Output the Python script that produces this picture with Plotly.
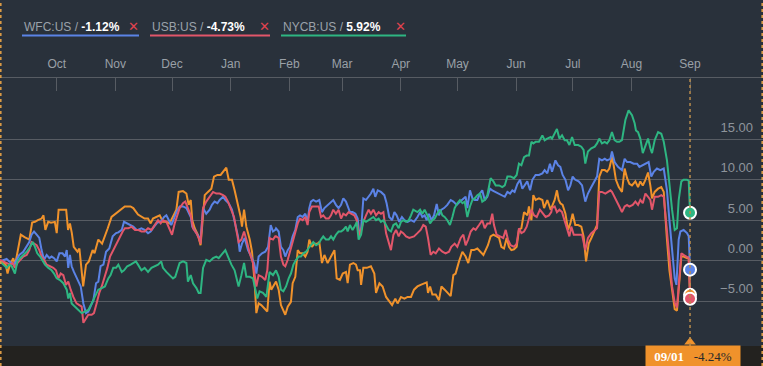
import pandas as pd
import plotly.graph_objects as go

START = pd.Timestamp("2014-09-01")

# ---------------- data (day offset from START, percent change) ----------------
orange_days = [0,1,3,4,5,7,8,10,11,13,15.5,17,18.5,20,22,23,24,25.5,27,29,30,31,33.5,35,36,37,38,39,41,42,44,45.5,47,49,50,52,54,55.5,57,59,61,62.5,64,66,69,70.5,
    73,74.8,76.5,78.3,79.7,80.9,82.7,84.5,86.2,88,89.7,91.5,93.3,94.5,96.8,98.6,99.8,100.9,101.7,103,104.7,106.1,107.4,108.3,110,111.8,113.2,115,116.7,118,119.7,121,122.7,124.1,125.9,127.3,128,129.1,130.3,132.1,133.3,134.7,135.6,136.8,138.2,140,141.4,142.6,143.5,
    146,147.4,148.6,149.9,150.9,152.2,153.9,154.8,156.2,157.5,158.7,160.1,161.5,162.7,163.6,165,166.3,168,168.9,170.3,171.6,173.3,175.1,176.9,178.1,179.8,181.3,183,183.9,185.1,186.9,188.3,189.2,190.4,191,192.2,194,196.2,198,198.9,200.7,202.4,204.2,205.9,207.4,209.1,210.3,212.1,213.9,215.6,217.4,
    219,220.8,222.5,224.3,225.7,226.4,227.5,228.7,230.5,232.2,233.5,235.2,236.6,238.4,239.8,241,242.8,244.6,246.3,247.7,249.3,250.7,252.5,253.9,255.7,256.9,258.1,259.5,261,262.7,264,265.2,266.6,268,269.2,270.5,271.9,273.3,274.5,275.8,277.2,279,279.8,281.1,282.1,283.3,285.1,286.9,287.8,289.5,291.3,
    292,293.4,294.6,295.5,296.4,297.6,299.1,300.5,301.7,302.9,304.3,305.8,307.5,308.7,310,311.4,312.8,314.6,315.8,317,318.4,319.9,321.1,322.3,323.7,324.6,325.8,327.3,329,330.4,331.7,332.9,334.3,336.1,337.5,338.7,340,341.4,342.8,344,344.9,346.3,348.1,349.8,351.1,352.8,354.1,355.5,356.9,358.1,359,360.4,361.6,363.4,364.3,365]
orange_vals = [0.0,-0.1,-0.5,-1.6,-0.7,0.3,-0.5,1.7,3.2,2.9,2.6,4.7,4.8,5.0,5.2,5.6,3.8,4.8,4.7,4.8,3.4,6.3,6.3,6.3,3.8,4.6,3.4,1.7,1.1,1.5,-3.2,-0.5,-0.1,1.3,0.9,2.6,2.1,3.0,4.0,5.4,5.8,6.0,6.3,6.7,6.7,6.5,
    5.7,5.4,5.2,5.2,4.6,5.2,5.4,5.6,4.8,4.8,4.6,5.4,6.3,8.5,8.6,8.3,6.9,7.5,5.0,4.0,3.2,1.9,6.3,8.1,8.5,8.9,10.4,10.6,10.6,11.0,11.5,10.0,10.0,8.7,6.9,5.4,4.2,6.3,4.2,2.6,1.1,-2.8,-6.5,-5.3,-5.5,-5.9,-6.3,-2.6,-3.6,
    -2.6,-3.6,-5.5,-6.1,-6.7,-5.7,-5.1,-2.8,-2.0,1.3,0.9,0.9,0.5,1.1,2.6,1.7,2.1,2.1,2.3,-0.3,0.7,-0.3,0.5,1.3,-2.2,-2.4,-1.6,-1.4,-2.8,-0.5,-0.3,-0.5,-1.2,-1.2,-3.0,-0.9,-0.9,-0.7,-1.6,-4.0,-2.8,-3.2,-4.5,-5.1,-5.5,-4.7,-5.3,-4.5,-4.7,-4.5,-4.5,
    -3.6,-3.2,-3.0,-2.8,-2.7,-4.0,-3.2,-4.2,-4.2,-4.9,-3.2,-3.6,-4.0,-4.4,-1.8,-1.6,-0.1,1.1,0.5,-0.3,1.3,1.3,1.5,1.1,0.7,1.3,1.9,3.0,3.2,3.0,2.8,1.7,1.5,2.8,1.7,1.3,1.4,1.7,3.8,4.0,6.0,5.6,6.7,5.0,8.1,7.5,7.7,7.5,6.5,7.5,6.3,
    6.7,7.5,8.7,7.5,7.1,6.9,5.8,3.8,4.6,5.8,4.4,4.4,4.2,3.0,-0.1,2.1,2.8,3.8,4.4,10.4,11.2,11.2,11.0,11.4,12.8,11.8,10.0,9.1,8.5,11.4,10.2,9.5,9.3,9.8,9.1,9.8,9.3,10.0,10.9,9.3,7.7,8.5,8.9,9.1,8.5,2.6,-1.2,-3.6,-6.0,-6.2,-3.6,0.5,0.5,0.3,0.4,-4.24]

wfc_days = [0,1.8,3.5,4.9,6.2,7.4,8.8,10.2,12.3,14.1,15.5,16.7,18,19.4,20.8,22,23.3,24.7,26.1,27.3,28.6,30,31.4,33.1,34.4,35.3,36.1,37,37.9,39.1,40.9,42.7,44.1,45.5,46.7,48,49.4,50.8,52,53.2,54.7,56.1,57.8,59.6,61.4,62.6,64.4,65.6,67,68.8,70.5,72.3,
    73,74.8,76.5,78.3,79.7,81.5,83.2,85,86.8,88,89.2,90.6,92,93.3,95,96.8,98.6,99.8,100.9,101.7,103.3,104.7,106.1,107.4,109.1,110.9,112.1,113.5,115,116.2,118,119.2,121,122.7,124.1,125.9,126.8,128,129.4,131.2,132.9,134.4,135.6,136.8,138.6,140.3,141.8,143.2,144.4,145.6,
    146,147.4,148.6,149.9,150.9,152.2,153.4,154.8,156.2,157.5,158.7,160.1,161.5,162.7,163.6,164.5,165.7,167.2,168.9,170.3,171.6,173.3,175.1,176.3,177.7,179.1,180.4,181.6,183,183.9,185.1,186.5,188,189.2,190.1,191,192.2,193.6,195,196.2,197.5,198.5,199.8,201.5,203.3,204.5,205.9,207.4,208.6,209.8,211.2,212.6,213.9,215.6,217.4,
    219,220.8,222.2,223.4,224.6,225.7,226.9,228.2,229.6,231,232.2,233.5,234.9,236.6,238.4,239.8,241.6,243.3,245.1,246.3,247.2,248.6,249.9,251.1,252.5,253.9,255.1,256.4,257.8,259.2,260.4,262.2,264,265.7,267,268.4,269.8,271,272.2,273.7,275.1,276.3,277.5,278.9,280.4,281.6,283.3,285.1,286.9,288.1,289.5,290.9,
    292,293.8,295.2,296.4,297.6,299.1,300.5,301.7,302.9,304.3,306.1,307.9,309.6,311,312.8,314.6,315.8,317,318.4,319.9,321.1,322.9,323.7,325.1,326.9,329,330.4,331.7,333.4,335.2,337,338.2,340,341.4,343.1,344.5,345.8,347.5,349.3,351.1,352.8,354.1,355.5,356.9,357.8,359,359.9,361.6,363.4,364.3,365]
wfc_vals = [-0.1,0.1,0.2,-0.1,-0.3,-0.5,0.1,0.7,1.1,1.7,2.3,3.2,3.6,3.2,2.8,1.3,0.1,0.7,0.3,0.5,0.3,-0.1,0.9,0.9,0.5,1.3,-0.9,0.7,-0.7,-1.4,-2.4,-3.2,-5.3,-6.5,-6.3,-5.7,-4.9,-2.8,-2.6,-0.7,-0.5,1.1,1.5,3.0,3.4,3.5,3.8,4.8,4.6,4.4,4.2,3.8,
    3.8,4.0,3.8,3.4,3.6,4.2,4.7,4.8,5.4,5.6,5.0,4.4,5.2,6.0,6.7,6.7,6.5,6.0,5.4,4.2,3.6,3.2,2.6,6.5,5.8,6.3,6.9,7.3,7.1,7.5,7.9,7.5,7.1,6.3,4.8,3.0,1.1,2.1,2.8,1.3,0.5,-0.3,-1.6,0.5,0.9,1.1,1.7,4.4,3.6,3.8,
    4.0,3.6,1.7,1.3,0.5,1.3,1.7,3.0,3.8,5.4,5.6,5.4,5.8,4.8,6.5,7.3,7.5,7.3,7.5,6.0,6.5,6.9,7.3,7.5,6.9,6.5,6.9,7.7,7.3,6.7,6.0,6.0,5.8,5.2,3.2,3.8,7.7,7.5,7.9,8.3,8.9,7.9,8.7,8.5,8.1,7.1,5.4,5.0,6.0,5.6,4.8,5.4,5.0,4.8,5.0,
    4.8,5.4,6.0,5.4,5.6,5.0,5.8,5.0,5.6,7.0,5.6,6.3,6.5,6.9,7.5,7.3,6.9,7.3,7.7,7.9,6.5,8.7,7.7,7.5,7.5,8.3,8.7,7.5,7.9,8.9,8.7,8.5,8.3,8.1,7.9,8.5,8.3,8.7,8.5,9.5,10.0,8.9,9.3,9.8,8.7,10.0,10.6,10.6,10.8,11.2,10.8,12.0,
    11.0,12.4,11.8,11.6,10.6,10.0,8.7,9.3,10.4,10.0,9.8,9.3,7.3,8.3,9.1,10.0,10.4,12.6,12.4,12.6,12.4,12.6,13.5,12.2,11.6,11.2,12.6,12.2,12.2,12.0,12.0,11.6,11.8,12.0,12.2,10.4,11.0,11.4,11.2,11.4,8.7,5.0,1.3,-2.2,-3.0,2.6,3.6,3.8,3.4,3.0,-1.12]

usb_days = [0,1.8,3.5,5.3,6.7,7.9,9.2,10.6,12.3,14.1,15.5,16.7,18,19.4,20.8,22,23.3,24.7,26.4,28.2,29.6,30.9,32.1,33.5,34.9,36.1,37.4,38.8,40.5,42.3,43.2,44.1,45.5,46.7,48.5,49.7,51.1,52.5,53.8,55.5,56.8,58.2,59.9,61.4,63.1,64.9,66.1,67.9,69.6,71.4,
    73,74.8,76.5,78.3,80.1,81.8,83.6,85,86.2,88,89.7,91,92.4,93.8,95,96.8,98,99.4,100.9,102.1,103.9,105.1,106.1,107.4,109.1,110.9,112.7,114.4,116.2,118,119.2,120.6,122.4,123.8,125,126.2,127.7,129.1,130.3,132.1,133.8,134.7,135.6,136.8,138.6,140.3,141.4,142.6,144.4,145.6,
    146,147.4,148.6,149.9,150.9,152.2,153.4,154.8,156.2,157.5,158.7,160.1,161.5,162.7,163.6,165,166.8,168.6,169.8,171,172.4,173.9,175.1,176.3,177.7,179.1,180.4,181.6,183,184.4,185.7,187.4,188.7,190.1,191,192.2,193.6,195,196.2,197.5,198.9,200.3,201.5,202.8,204.2,205.6,206.8,208.1,209.5,210.9,212.1,213.3,214.8,216.5,218.3,
    219,220.8,222.5,223.9,225.2,226.4,227.8,229.2,230.5,232.2,234,235.7,237.5,238.7,240.5,241.9,243.7,245.1,246.3,247.6,249,250.4,251.6,253.4,255.1,256.4,257.8,259.2,260.4,261.3,262.7,264.5,266.2,267.5,268.7,270.1,271.9,273.3,274.5,275.8,277.2,278.6,279.8,281.1,282.5,283.9,285.6,287.4,288.6,290.4,291.6,
    292,293.4,294.6,295.9,297.3,298.7,299.9,301.2,302.2,303.5,304.7,306.1,307.9,309.6,311,312.8,314.6,315.8,317,318.4,320.2,321.6,322.9,323.7,325.1,326.4,327.6,329,330.4,331.7,332.9,334.7,336.1,337.5,338.7,340,341.4,342.8,344,344.9,346.3,348.1,349.8,351.1,352.8,354.1,355.5,356.9,358.1,359,360.4,361.6,363.4,364.3,365]
usb_vals = [0.1,-0.1,-0.3,-0.5,-0.3,-0.9,-0.3,0.1,0.5,0.7,1.3,2.3,2.1,1.9,1.3,0.5,0.1,-0.5,-0.7,-0.9,-1.2,-2.2,-1.6,-1.8,-3.0,-2.6,-3.6,-4.5,-5.3,-5.5,-5.7,-7.7,-7.1,-6.7,-6.7,-6.5,-5.3,-4.0,-3.2,-2.0,-0.9,0.5,1.3,2.1,2.8,3.6,4.0,4.0,4.2,3.8,
    3.8,3.6,3.6,4.0,3.8,4.4,5.0,4.6,5.0,4.8,4.0,3.2,4.6,5.8,6.5,7.1,7.3,6.5,5.6,4.0,3.4,2.8,2.1,6.5,7.3,7.9,8.5,8.3,8.3,8.1,7.9,7.3,6.3,5.4,3.8,2.3,2.6,3.6,2.6,0.9,-0.3,-1.8,-3.2,-1.8,-2.0,-2.4,-1.2,2.8,2.6,3.0,
    3.0,2.8,0.5,-0.5,-0.7,0.1,1.1,2.3,3.4,4.6,5.2,5.0,5.4,4.4,6.0,6.7,6.7,6.7,5.4,5.6,5.2,5.2,5.6,6.3,5.8,6.3,5.2,5.8,5.6,6.0,5.8,5.6,5.0,3.0,3.8,4.8,5.6,6.3,5.8,6.3,5.6,6.0,5.8,6.0,3.4,2.1,1.3,3.2,3.8,3.0,3.6,3.4,3.0,2.8,3.0,
    3.0,3.4,3.8,4.4,4.2,2.8,0.7,1.1,0.9,1.5,1.1,0.9,1.1,1.7,2.1,1.7,2.8,3.2,1.9,2.6,3.6,4.0,3.8,4.4,5.0,4.0,4.6,4.6,5.8,4.4,3.2,3.0,2.8,3.8,2.6,1.9,1.7,2.1,4.0,3.4,3.6,4.2,5.2,6.3,5.6,5.4,6.3,5.8,5.4,5.6,6.0,
    6.5,6.7,6.0,6.3,6.0,5.0,4.0,3.0,4.2,3.2,3.2,3.2,3.2,1.3,2.8,3.4,3.8,4.0,8.5,8.5,8.3,8.5,8.7,8.5,7.9,7.3,6.7,6.0,6.7,6.9,6.7,6.9,7.3,6.9,7.5,7.1,8.3,7.9,7.5,6.3,7.9,7.9,8.1,7.9,3.8,0.1,-3.2,-5.2,-5.8,-3.2,0.9,0.7,0.5,0.3,-4.73]

nycb_days = [0,1.8,3.5,4.9,6.2,7.9,9.2,10.6,12.3,14.1,15.9,17.3,18.5,19.7,21.2,22.6,23.8,25.6,27.3,28.6,30,31.7,33.5,35.3,36.1,37,37.9,39.7,41.4,43.2,45,46.7,48.5,50.2,52,53.8,55.5,57.3,58.5,59.9,61.4,62.6,64.4,65.6,67.3,69.1,70.5,71.9,
    73,74.8,76.5,78.3,80.1,81.8,83.6,85.3,86.2,88,89.7,91.5,92.7,93.8,95,96.8,98.6,99.4,100.9,102.1,103.9,105.1,106.1,107.4,109.1,110.9,112.7,114.4,115.7,117.1,119.2,120.6,122.4,124.1,126.2,127.7,129.1,130.3,132.1,133.8,135.1,136.1,137.3,139.1,140.9,142.6,144.4,145.6,
    146,147.4,148.6,149.9,151.3,152.7,153.9,155.2,156.6,158,159.2,160.5,161.9,163.1,164.5,165.7,167.2,168.6,169.8,171,172.4,173.9,175.1,176.3,177.7,179.1,180.4,181.6,183,183.9,185.1,186.5,188,188.7,189.7,191,192.2,193.6,195,196.2,197.5,198.9,200.3,201.5,202.8,204.2,205.6,206.8,208.1,209.5,210.9,212.1,213.3,214.8,216.2,217.4,218.6,
    220.8,222.2,223.4,224.6,226.1,227.5,228.7,229.9,231.3,232.8,234,235.2,236.6,238,239.3,240.5,241.9,243.3,244.6,245.8,247.2,248.6,249.9,251.1,252.5,253.9,255.1,256.4,257.8,259.5,261,262.2,264,265.7,267,268.4,270.1,271.9,273.3,274.5,275.8,277.2,278.6,279.8,281.1,282.1,283.3,285.1,286.9,288.1,289.5,291.3,
    292,293.4,294.6,295.9,297.3,298.7,299.9,301.2,302.6,304,305.8,307.5,308.7,309.6,311,312.8,314.6,315.8,317,318.4,319.9,321.1,322.3,323.7,325.1,326.4,327.6,329,330.8,332.5,334.3,335.7,336.4,337.5,338.7,340,341.4,342.8,344,344.9,346.3,348.1,349.8,351.1,352.8,354.1,355.5,356.9,358.1,359,360.4,361.6,363.4,364.3,365]
nycb_vals = [-0.1,-0.5,-0.9,-0.5,-0.7,-1.6,-0.1,0.3,0.7,1.1,1.7,2.3,1.7,0.9,0.5,-0.1,-0.5,-0.9,-1.2,-1.6,-2.2,-2.4,-2.8,-3.6,-4.7,-4.0,-5.3,-5.7,-6.1,-6.5,-6.3,-6.1,-5.3,-4.5,-3.6,-3.4,-3.2,-2.2,-1.8,-0.9,-0.9,-0.5,-1.4,-1.2,-0.7,-0.5,-0.3,-0.1,
    -0.5,-1.2,-0.9,-1.4,-0.9,-0.7,-0.5,-0.1,-0.9,-1.4,-1.8,-2.2,-2.0,-1.2,-0.3,-0.1,-0.3,-2.6,-1.8,-2.8,-3.4,-4.0,-4.0,-0.9,0.1,-0.1,0.3,0.5,0.3,0.7,1.3,0.5,-0.5,-1.2,-3.2,-1.8,-0.3,-2.0,-2.0,-2.2,-3.8,-4.7,-3.8,-4.0,-4.5,-1.4,-1.8,-1.4,
    -1.2,-2.0,-3.6,-3.8,-3.2,-2.2,-1.6,-0.5,0.1,0.5,0.5,0.9,1.1,1.5,1.9,2.3,1.9,2.1,2.6,3.0,2.6,2.6,3.0,2.6,3.2,3.6,3.6,3.8,4.2,3.6,4.4,3.8,4.4,4.8,2.6,3.2,5.0,4.8,5.0,5.2,5.4,5.0,5.2,4.8,5.0,4.4,3.8,3.6,4.4,4.6,4.0,4.8,5.0,4.8,5.0,5.6,6.3,
    6.0,6.3,5.8,6.3,5.6,4.6,5.0,5.2,5.8,6.3,5.6,5.4,5.0,4.4,5.4,6.5,7.1,7.5,7.1,7.3,5.4,6.7,7.5,7.7,8.1,8.3,7.3,7.5,8.1,10.2,9.8,9.3,9.3,9.1,9.3,10.4,10.4,10.2,10.6,12.0,11.8,12.8,13.0,13.0,14.7,14.5,14.7,14.7,15.5,14.9,15.1,15.3,
    15.1,15.7,16.3,15.1,15.5,14.9,14.9,14.3,15.3,14.3,14.3,14.1,13.7,12.0,13.5,13.9,14.1,14.5,15.1,14.5,14.7,14.5,14.9,15.9,14.9,14.7,14.7,14.9,17.4,18.6,18.0,17.0,16.1,15.9,15.1,13.3,14.1,15.1,13.9,13.3,14.9,15.9,15.7,14.7,12.4,9.1,6.3,3.8,4.0,7.5,9.8,10.0,10.0,9.9,5.92]

tickers = ["WFC:US", "USB:US", "NYCB:US"]
last_label = ["-1.12%", "-4.73%", "5.92%"]
y_ticks = [-5, 0, 5, 10, 15]
hover_date = "09/01"
hover_value = "-4.24%"

# ---------------- styling ----------------
W, H = 763, 366
T, B = 78, 20
PH = H - T - B
BG = "#29313b"
ORANGE = "#f0922b"
BLUE = "#5b83e6"
RED = "#e2566a"
GREEN = "#2eb682"
GRID = "#575c63"


def to_dates(days):
    return [START + pd.Timedelta(days=d) for d in days]


def ppy(p):  # pixel row -> paper y
    return (H - B - p) / PH


def ppx(p):  # pixel column -> paper x
    return p / W


for d, v in [(orange_days, orange_vals), (wfc_days, wfc_vals), (usb_days, usb_vals), (nycb_days, nycb_vals)]:
    assert len(d) == len(v), (len(d), len(v))

y_lo, y_hi = -10.57, 22.6
x_lo = START
x_hi = START + pd.Timedelta(days=403.6)

series = [
    ("other", orange_days, orange_vals, ORANGE),
    ("WFC", wfc_days, wfc_vals, BLUE),
    ("USB", usb_days, usb_vals, RED),
    ("NYCB", nycb_days, nycb_vals, GREEN),
]

fig = go.Figure()
for name, d, v, c in series:
    fig.add_trace(go.Scatter(x=to_dates(d), y=v, mode="lines", name=name,
                             line=dict(color=c, width=2), hoverinfo="skip"))

last_date = to_dates([orange_days[-1]])[0]
for name, d, v, c in [series[3], series[1], series[0], series[2]]:
    fig.add_trace(go.Scatter(x=[last_date], y=[v[-1]], mode="markers", cliponaxis=False,
                             marker=dict(size=12, color=c, line=dict(color="white", width=2)),
                             hoverinfo="skip"))

# pointer triangle of the hover label
fig.add_trace(go.Scatter(x=[last_date], y=[y_lo + (y_hi - y_lo) * 4 / PH], mode="markers",
                         cliponaxis=False, hoverinfo="skip",
                         marker=dict(symbol="triangle-up", size=10, color=ORANGE)))

shapes = [
    dict(type="rect", xref="paper", yref="paper", x0=0, x1=1, y0=ppy(H), y1=0,
         fillcolor="#23221f", line_width=0, layer="below"),
    dict(type="line", xref="x", yref="paper", x0=last_date, x1=last_date, y0=0, y1=1,
         line=dict(color="#b88c4c", width=1.5, dash="dot")),
    dict(type="line", xref="paper", yref="paper", x0=ppx(0.8), x1=ppx(0.8), y0=ppy(H), y1=ppy(0),
         line=dict(color="#d99a45", width=1.6, dash="dot")),
    dict(type="line", xref="paper", yref="paper", x0=ppx(762.2), x1=ppx(762.2), y0=ppy(H), y1=ppy(0),
         line=dict(color="#d99a45", width=1.6, dash="dot")),
]

annotations = []
leg_x = [22, 150, 281]
leg_end = [139, 270, 406]
leg_col = [BLUE, RED, GREEN]
for i, t in enumerate(tickers):
    annotations.append(dict(
        xref="paper", yref="paper", x=ppx(leg_x[i]), y=ppy(27), xanchor="left", yanchor="middle",
        showarrow=False,
        text=f"<span style='color:#9ba2aa'>{t} / </span><b>{last_label[i]}</b>",
        font=dict(family="Liberation Sans, Arial", size=12, color="#ffffff")))
    annotations.append(dict(
        xref="paper", yref="paper", x=ppx(leg_end[i] - 6), y=ppy(27), xanchor="center", yanchor="middle",
        showarrow=False, text="✕", font=dict(family="DejaVu Sans", size=13, color="#e0434f")))
    shapes.append(dict(type="line", xref="paper", yref="paper", x0=ppx(leg_x[i]), x1=ppx(leg_end[i]),
                       y0=ppy(35.5), y1=ppy(35.5), line=dict(color=leg_col[i], width=2)))

annotations.append(dict(
    xref="x", yref="paper", x=last_date, y=ppy(356), xanchor="center", yanchor="middle",
    xshift=3, showarrow=False, width=94, height=20, borderpad=0, bgcolor=ORANGE,
    text=f"<b>{hover_date}</b>&nbsp;&nbsp;&nbsp;<span style='color:#2a2a2a'>{hover_value}</span>",
    font=dict(family="Liberation Serif, Times New Roman", size=13, color="#ffffff")))

fig.update_layout(
    width=W, height=H, autosize=False,
    margin=dict(l=0, r=0, t=T, b=B, pad=0),
    paper_bgcolor=BG, plot_bgcolor=BG,
    showlegend=False, hovermode=False,
    shapes=shapes, annotations=annotations,
    xaxis=dict(type="date", range=[x_lo, x_hi], side="top", dtick="M1", tick0="2014-10-01",
               tickformat="%b", ticks="inside", ticklen=13, tickcolor=GRID, tickwidth=1,
               showline=True, linecolor=GRID, linewidth=1, showgrid=False, zeroline=False,
               ticklabelstandoff=4,
               tickfont=dict(family="Liberation Sans, Arial", size=12, color="#9aa0a7")),
    yaxis=dict(range=[y_lo, y_hi], side="right", tickvals=y_ticks, tickformat=".2f",
               ticklabelposition="inside top", ticks="", showgrid=True, gridcolor=GRID,
               gridwidth=1, zeroline=False, showline=False, ticklabelstandoff=7,
               ticklabelshift=-3,
               tickfont=dict(family="Liberation Sans, Arial", size=13, color="#8e949b")),
)

fig.write_html("out.html", config={"displayModeBar": False},
               post_script="document.body.style.margin='0';document.body.style.overflow='hidden';")
